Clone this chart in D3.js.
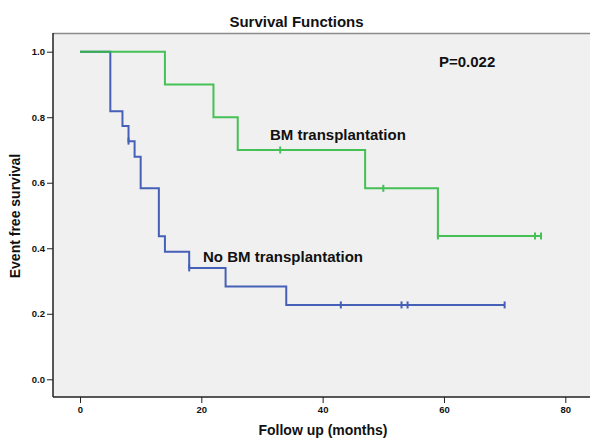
<!DOCTYPE html>
<html>
<head>
<meta charset="utf-8">
<script src="https://cdn.jsdelivr.net/npm/d3@7"></script>
<style>
  body { margin: 0; background: #fff; }
  text { font-family: "Liberation Sans", Arial, sans-serif; fill: #111; }
</style>
</head>
<body>
<div id="chart"></div>
<script>
// step data
const noBmTimes = [0, 5, 7, 8, 9, 10, 13, 14, 18, 24, 34, 70];
const noBmSurv = [1, 0.818, 0.773, 0.727, 0.679, 0.583, 0.437, 0.389, 0.340, 0.283, 0.227, 0.227];
const noBmCensored = [8, 18, 43, 53, 54, 70];

const bmTimes = [0, 14, 22, 26, 47, 59, 76];
const bmSurv = [1, 0.9, 0.8, 0.7, 0.583, 0.4375, 0.4375];
const bmCensored = [33, 50, 59, 75, 76];

const xTicks = [0, 20, 40, 60, 80];
const yTicks = [0, 0.2, 0.4, 0.6, 0.8, 1.0];

const width = 590;
const height = 439;
const frame = { left: 53, top: 33, right: 590, bottom: 397 };

const x = d3.scaleLinear().domain([0, 80]).range([80, 565.3]);
const y = d3.scaleLinear().domain([0, 1]).range([379.3, 51.7]);

const svg = d3.select('#chart')
  .append('svg')
  .attr('width', width)
  .attr('height', height);

svg.append('rect')
  .attr('x', frame.left)
  .attr('y', frame.top)
  .attr('width', frame.right - frame.left)
  .attr('height', frame.bottom - frame.top)
  .attr('fill', '#f0f0f0');

svg.append('line')
  .attr('x1', frame.left).attr('x2', frame.right)
  .attr('y1', frame.top + 0.5).attr('y2', frame.top + 0.5)
  .attr('stroke', '#8a8a8a').attr('stroke-width', 1.5);

// axes
const yAxis = svg.append('g')
  .attr('transform', `translate(${frame.left},0)`)
  .call(d3.axisLeft(y).tickValues(yTicks).tickFormat(d3.format('.1f')).tickSize(6).tickPadding(2));

const xAxis = svg.append('g')
  .attr('transform', `translate(0,${frame.bottom})`)
  .call(d3.axisBottom(x).tickValues(xTicks).tickSize(6).tickPadding(3));

[yAxis, xAxis].forEach(g => {
  g.select('.domain').remove();
  g.selectAll('.tick line').attr('stroke', '#222').attr('stroke-width', 1);
  g.selectAll('.tick text')
    .style('font-size', '9.5px')
    .style('font-weight', 'bold')
    .attr('fill', '#111');
});

svg.append('line')
  .attr('x1', frame.left).attr('x2', frame.left)
  .attr('y1', frame.top).attr('y2', frame.bottom)
  .attr('stroke', '#222').attr('stroke-width', 1.5);

svg.append('line')
  .attr('x1', frame.left).attr('x2', frame.right)
  .attr('y1', frame.bottom).attr('y2', frame.bottom)
  .attr('stroke', '#222').attr('stroke-width', 1.5);

// survival curves
const stepLine = d3.line()
  .x(d => x(d[0]))
  .y(d => y(d[1]))
  .curve(d3.curveStepAfter);

const survAt = (times, surv, t) => surv[d3.bisectRight(times, t) - 1];

const series = [
  { times: noBmTimes, surv: noBmSurv, censored: noBmCensored, color: '#4560b6', opacity: 1 },
  { times: bmTimes, surv: bmSurv, censored: bmCensored, color: '#33bb44', opacity: 0.9 },
];

series.forEach(s => {
  const g = svg.append('g').attr('opacity', s.opacity);

  g.append('path')
    .datum(d3.zip(s.times, s.surv))
    .attr('fill', 'none')
    .attr('stroke', s.color)
    .attr('stroke-width', 2);

  g.select('path').attr('d', stepLine);

  g.selectAll('.censor')
    .data(s.censored)
    .enter()
    .append('line')
    .attr('class', 'censor')
    .attr('x1', d => x(d))
    .attr('x2', d => x(d))
    .attr('y1', d => y(survAt(s.times, s.surv, d)) - 3.5)
    .attr('y2', d => y(survAt(s.times, s.surv, d)) + 3.5)
    .attr('stroke', s.color)
    .attr('stroke-width', 2);
});

// text
svg.append('text')
  .attr('x', 296.5)
  .attr('y', 26.5)
  .attr('text-anchor', 'middle')
  .style('font-size', '15px')
  .style('font-weight', 'bold')
  .text('Survival Functions');

svg.append('text')
  .attr('x', 439)
  .attr('y', 67)
  .style('font-size', '15px')
  .style('font-weight', 'bold')
  .text('P=0.022');

svg.append('text')
  .attr('x', 270)
  .attr('y', 140)
  .style('font-size', '15px')
  .style('font-weight', 'bold')
  .text('BM transplantation');

svg.append('text')
  .attr('x', 203)
  .attr('y', 262)
  .style('font-size', '15px')
  .style('font-weight', 'bold')
  .text('No BM transplantation');

svg.append('text')
  .attr('x', 323)
  .attr('y', 435)
  .attr('text-anchor', 'middle')
  .style('font-size', '14px')
  .style('font-weight', 'bold')
  .text('Follow up (months)');

svg.append('text')
  .attr('transform', 'translate(20,216) rotate(-90)')
  .attr('text-anchor', 'middle')
  .style('font-size', '14px')
  .style('font-weight', 'bold')
  .text('Event free survival');
</script>
</body>
</html>
